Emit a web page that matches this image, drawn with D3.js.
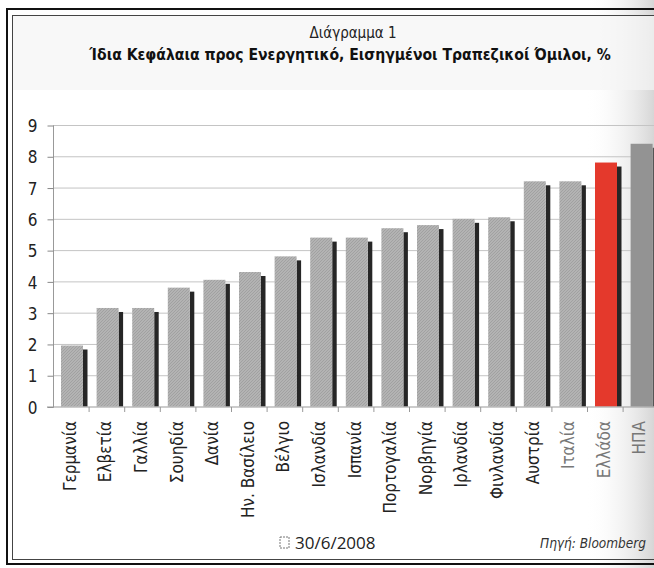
<!DOCTYPE html>
<html>
<head>
<meta charset="utf-8">
<script src="https://cdn.jsdelivr.net/npm/d3@7"></script>
<style>
  body { margin: 0; background: #fff; }
  svg { display: block; }
</style>
</head>
<body>
<script>
// data
var categories = ["Γερμανία", "Ελβετία", "Γαλλία", "Σουηδία", "Δανία", "Ην. Βασίλειο", "Βέλγιο",
                  "Ισλανδία", "Ισπανία", "Πορτογαλία", "Νορβηγία", "Ιρλανδία", "Φινλανδία",
                  "Αυστρία", "Ιταλία", "Ελλάδα", "ΗΠΑ"];
var values = [1.95, 3.15, 3.15, 3.8, 4.05, 4.3, 4.8, 5.4, 5.4, 5.7, 5.8, 6.0, 6.05, 7.2, 7.2, 7.8, 8.4];
var yTicks = [0, 1, 2, 3, 4, 5, 6, 7, 8, 9];

var width = 654;
var height = 568;
var font = "'Liberation Sans Narrow', 'DejaVu Sans Condensed', 'Liberation Sans', sans-serif";

var svg = d3.select("body")
            .append("svg")
            .attr("width", width)
            .attr("height", height);

var defs = svg.append("defs");

// fine diagonal hatch of the grey bars
var hatch = defs.append("pattern")
                .attr("id", "hatch")
                .attr("patternUnits", "userSpaceOnUse")
                .attr("width", 3)
                .attr("height", 3);
hatch.append("rect").attr("width", 3).attr("height", 3).attr("fill", "#b3b3b3");
hatch.append("path").attr("d", "M0,3 L3,0").attr("stroke", "#9c9c9c").attr("stroke-width", 0.8);

// the page gets darker near the gutter on the right
var grad = defs.append("linearGradient")
               .attr("id", "gutter")
               .attr("x1", 0).attr("x2", 1).attr("y1", 0).attr("y2", 0);
grad.append("stop").attr("offset", "0%").attr("stop-color", "#ffffff").attr("stop-opacity", 0);
grad.append("stop").attr("offset", "100%").attr("stop-color", "#d6d6d6").attr("stop-opacity", 1);

svg.append("rect")
   .attr("x", 585).attr("y", 0)
   .attr("width", 69).attr("height", height)
   .attr("fill", "url(#gutter)");

// title band is very slightly grey
svg.append("rect")
   .attr("x", 13).attr("y", 16)
   .attr("width", width).attr("height", 74)
   .attr("fill", "#f5f5f5")
   .attr("opacity", 0.7);

// frame
svg.append("rect")
   .attr("x", 7).attr("y", 9)
   .attr("width", width + 10).attr("height", 555)
   .attr("fill", "none")
   .attr("stroke", "#111")
   .attr("stroke-width", 2);
svg.append("rect")
   .attr("x", 12.5).attr("y", 15.5)
   .attr("width", width + 10).attr("height", 544)
   .attr("fill", "none")
   .attr("stroke", "#444")
   .attr("stroke-width", 1);

// titles
svg.append("text")
   .attr("x", 353).attr("y", 38)
   .attr("text-anchor", "middle")
   .attr("font-family", font)
   .attr("font-size", 15)
   .attr("fill", "#222")
   .text("Διάγραμμα 1");

svg.append("text")
   .attr("x", 350).attr("y", 60)
   .attr("text-anchor", "middle")
   .attr("font-family", font)
   .attr("font-weight", "bold")
   .attr("font-size", 15.6)
   .attr("fill", "#111")
   .text("Ίδια Κεφάλαια προς Ενεργητικό, Εισηγμένοι Τραπεζικοί Όμιλοι, %");

// scales
var y_scale = d3.scaleLinear()
                .domain([0, 9])
                .range([406.5, 125]);

var x_scale = d3.scaleBand()
                .domain(categories)
                .range([53, 53 + 35.6 * categories.length])
                .paddingInner(0)
                .paddingOuter(0);

// gridlines
svg.append("g")
   .selectAll("line")
   .data(yTicks.slice(1))
   .enter()
   .append("line")
   .attr("x1", 53)
   .attr("x2", width)
   .attr("y1", function(d) { return y_scale(d) + 0.5; })
   .attr("y2", function(d) { return y_scale(d) + 0.5; })
   .attr("stroke", "#c4c4c4")
   .attr("stroke-width", 1);

// bars
var barW = 22;
var shadowW = 4.5;

var bars = svg.append("g")
              .selectAll("g")
              .data(categories)
              .enter()
              .append("g");

bars.append("rect")
    .attr("x", function(d) { return x_scale(d) + 8 + barW; })
    .attr("y", function(d, i) { return y_scale(values[i]) + 4; })
    .attr("width", shadowW)
    .attr("height", function(d, i) { return y_scale(0) - y_scale(values[i]) - 4; })
    .attr("fill", function(d) { return d == "ΗΠΑ" ? "#555" : "#262626"; });

bars.append("rect")
    .attr("x", function(d) { return x_scale(d) + 8; })
    .attr("y", function(d, i) { return y_scale(values[i]); })
    .attr("width", barW)
    .attr("height", function(d, i) { return y_scale(0) - y_scale(values[i]); })
    .attr("fill", function(d) {
      if (d == "Ελλάδα") return "#e4392c";
      if (d == "ΗΠΑ") return "#939393";
      return "url(#hatch)";
    });

// y axis
var y_axis = d3.axisLeft(y_scale)
               .tickValues(yTicks)
               .tickSize(6)
               .tickPadding(10)
               .tickFormat(d3.format("d"));

var gy = svg.append("g")
            .attr("transform", "translate(53.5,0.5)")
            .call(y_axis);
gy.select(".domain").attr("stroke", "#999").attr("d", "M0,125V407");
gy.selectAll(".tick line").attr("stroke", "#888");
gy.selectAll(".tick text")
  .attr("font-family", font)
  .attr("font-size", 17)
  .attr("fill", "#222")
  .attr("dy", "0.36em");

// x axis: ticks sit between the categories
svg.append("line")
   .attr("x1", 47).attr("x2", width)
   .attr("y1", 407).attr("y2", 407)
   .attr("stroke", "#999");

svg.append("g")
   .selectAll("line")
   .data(categories)
   .enter()
   .append("line")
   .attr("x1", function(d) { return x_scale(d) + x_scale.bandwidth() + 0.5; })
   .attr("x2", function(d) { return x_scale(d) + x_scale.bandwidth() + 0.5; })
   .attr("y1", 407)
   .attr("y2", 412)
   .attr("stroke", "#999");

svg.append("g")
   .selectAll("text")
   .data(categories)
   .enter()
   .append("text")
   .attr("transform", function(d) {
     return "translate(" + (x_scale(d) + x_scale.bandwidth() / 2 + 5) + ",421) rotate(-90)";
   })
   .attr("text-anchor", "end")
   .attr("font-family", font)
   .attr("font-size", 17)
   .attr("fill", function(d, i) { return i >= 14 ? "#777" : "#222"; })
   .text(function(d) { return d; });

// footer
svg.append("rect")
   .attr("x", 280).attr("y", 537)
   .attr("width", 9).attr("height", 11)
   .attr("fill", "none")
   .attr("stroke", "#777")
   .attr("stroke-dasharray", "2,1");

svg.append("text")
   .attr("x", 295).attr("y", 549)
   .attr("font-family", "'Open Sans', 'Noto Sans', sans-serif")
   .attr("font-size", 17)
   .attr("fill", "#222")
   .text("30/6/2008");

svg.append("text")
   .attr("x", 540).attr("y", 548)
   .attr("font-family", font)
   .attr("font-style", "italic")
   .attr("font-size", 13.5)
   .attr("fill", "#333")
   .text("Πηγή: Bloomberg");
</script>
</body>
</html>
